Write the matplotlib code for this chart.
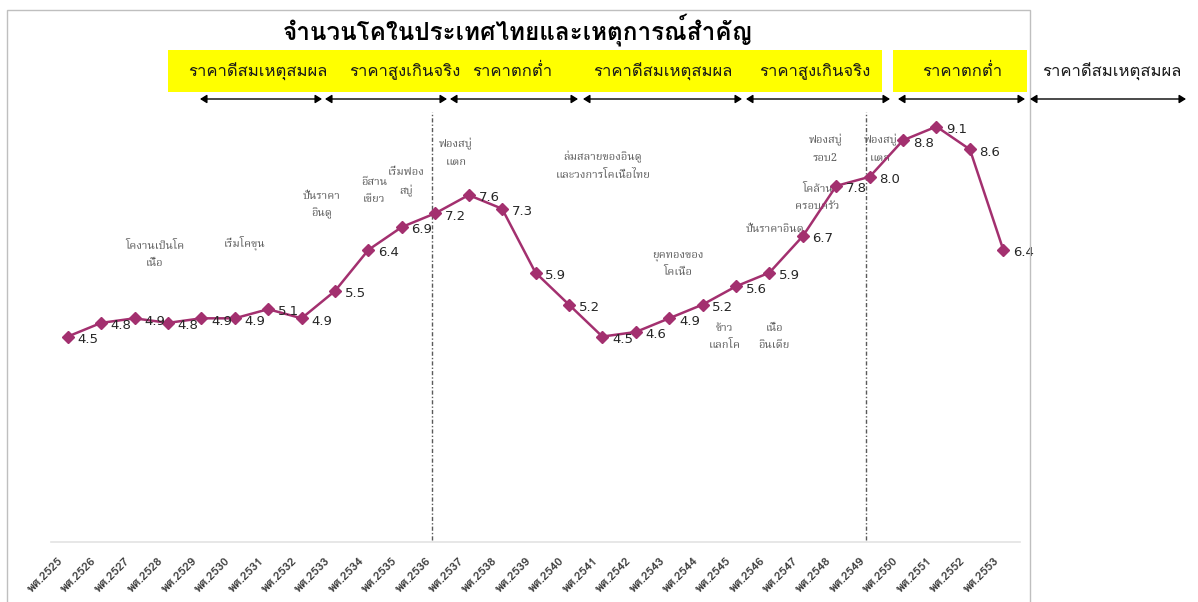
import matplotlib
matplotlib.use("Agg")
import matplotlib.pyplot as plt
from matplotlib import font_manager
from matplotlib.patches import Rectangle, FancyArrowPatch
from matplotlib.transforms import ScaledTranslation

# ---------------- data ----------------
years = ["พศ.%d" % y for y in range(2525, 2554)]
cattle = [4.5, 4.8, 4.9, 4.8, 4.9, 4.9, 5.1, 4.9, 5.5, 6.4, 6.9, 7.2, 7.6, 7.3,
          5.9, 5.2, 4.5, 4.6, 4.9, 5.2, 5.6, 5.9, 6.7, 7.8, 8.0, 8.8, 9.1, 8.6, 6.4]
title = "จำนวนโคในประเทศไทยและเหตุการณ์สำคัญ"
phase_labels = ["ราคาดีสมเหตุสมผล", "ราคาสูงเกินจริง", "ราคาตกต่ำ",
                "ราคาดีสมเหตุสมผล", "ราคาสูงเกินจริง", "ราคาตกต่ำ", "ราคาดีสมเหตุสมผล"]
event_texts = ["โคงานเป็นโค\nเนื้อ", "เริ่มโคขุน", "ปั่นราคา\nอินดู", "อีสาน\nเขียว",
               "เริ่มฟอง\nสบู่", "ฟองสบู่\nแตก", "ล่มสลายของอินดู\nและวงการโคเนื้อไทย",
               "ยุคทองของ\nโคเนื้อ", "ข้าว\nแลกโค", "เนื้อ\nอินเดีย", "ปั่นราคาอินดู",
               "ฟองสบู่\nรอบ2", "โคล้าน\nครอบครัว", "ฟองสบู่\nแตก"]
event_x = [2.61, 5.30, 7.61, 9.16, 10.12, 11.62, 16.02, 18.27, 19.65, 21.14, 21.17,
           22.67, 22.43, 24.32]
event_y = [6.29, 6.55, 7.38, 7.69, 7.89, 8.52, 8.24, 6.09, 4.49, 4.49, 6.86,
           8.61, 7.54, 8.61]
bubble_bounds = [10.9, 23.9]

# ---------------- fonts ----------------
def thai_fonts():
    found = []
    try:
        from fontTools.ttLib import TTFont
    except Exception:
        return found
    for f in font_manager.fontManager.ttflist:
        try:
            kw = {"fontNumber": 0} if f.fname.lower().endswith(".ttc") else {}
            tt = TTFont(f.fname, lazy=True, **kw)
            cmap = tt.getBestCmap()
            if cmap and 0x0E01 in cmap and 0x0E33 in cmap and f.name not in found:
                found.append(f.name)
        except Exception:
            pass
    return found

tf = thai_fonts()

def pick(prefs):
    for p in prefs:
        if p in tf:
            return p
    return tf[0] if tf else "DejaVu Sans"

sans_thai = pick(["Loma", "Noto Sans Thai Looped", "Garuda", "Sarabun"])
serif_thai = pick(["Noto Serif Thai", "Taviraj", "Kinnari", "Norasi", "FreeSerif", "Loma"])
plt.rcParams["font.family"] = [sans_thai, "DejaVu Sans"]

W, H = 1198, 602
fig = plt.figure(figsize=(W / 100, H / 100), dpi=100)

def fx(px):
    return px / W

def fy(py):
    return 1 - py / H

# frame of chart
fig.patches.append(Rectangle((fx(7), fy(700)), fx(1030) - fx(7), fy(10) - fy(700),
                             transform=fig.transFigure, fill=False,
                             edgecolor="#bfbfbf", lw=1.0))

ax = fig.add_axes([fx(51), fy(542), fx(1020) - fx(51), fy(85.5) - fy(542)])
ax.set_xlim(-0.5, len(years) - 0.5)
ax.set_ylim(0, 10)
for s in ["top", "right", "left"]:
    ax.spines[s].set_visible(False)
ax.spines["bottom"].set_color("#e3e3e3")
ax.spines["bottom"].set_linewidth(1.2)
ax.set_yticks([])
ax.set_xticks(range(len(years)))
ax.set_xticklabels(years, rotation=45, ha="right", rotation_mode="anchor",
                   fontsize=8.5, fontweight="bold", color="#404040")
ax.tick_params(axis="x", length=0, pad=10)
off = ScaledTranslation(-10 / 100, 0, fig.dpi_scale_trans)
for lab in ax.get_xticklabels():
    lab.set_transform(lab.get_transform() + off)

xs = list(range(len(cattle)))
ax.plot(xs, cattle, color="#a3306f", lw=1.8, marker="D", markersize=6.5,
        markerfacecolor="#a3306f", markeredgecolor="#a3306f", zorder=3)
for x, v in zip(xs, cattle):
    ax.annotate("%.1f" % v, (x, v), xytext=(7, -2), textcoords="offset points",
                ha="left", va="center", fontsize=9.5, color="#262626", zorder=4,
                family="DejaVu Sans")

for b in bubble_bounds:
    ax.plot([b, b], [0.05, 9.42], color="#595959", lw=1.0,
            linestyle=(0, (3, 1.5, 1, 1.5)), zorder=1)

for t, x, y in zip(event_texts, event_x, event_y):
    ax.text(x, y, t, ha="center", va="center", fontsize=8, color="#595959",
            linespacing=1.8, zorder=2, family=[serif_thai, "DejaVu Sans"])

# title
fig.text(fx(518), fy(30), title, ha="center", va="center", fontsize=17.5,
         fontweight="bold", color="#000000")

# yellow boxes
for x0, x1 in [(168, 882), (893, 1027)]:
    fig.patches.append(Rectangle((fx(x0), fy(92)), fx(x1) - fx(x0), fy(50) - fy(92),
                                 transform=fig.transFigure, facecolor="#ffff00",
                                 edgecolor="none", zorder=0))

phase_cx = [258, 405, 512, 663, 815, 962, 1112]
for t, cx in zip(phase_labels, phase_cx):
    fig.text(fx(cx), fy(72), t, ha="center", va="center", fontsize=12, color="#1a1a1a")

arrow_segs = [(200, 322), (325, 447), (450, 578), (583, 742), (746, 890), (898, 1025),
              (1030, 1186)]
for a, b in arrow_segs:
    fig.patches.append(FancyArrowPatch(
        (fx(a), fy(99)), (fx(b), fy(99)), transform=fig.transFigure,
        arrowstyle="<|-|>,head_length=4,head_width=2.5", color="black", lw=1.0,
        shrinkA=0, shrinkB=0))

fig.savefig("out.png", dpi=100)
